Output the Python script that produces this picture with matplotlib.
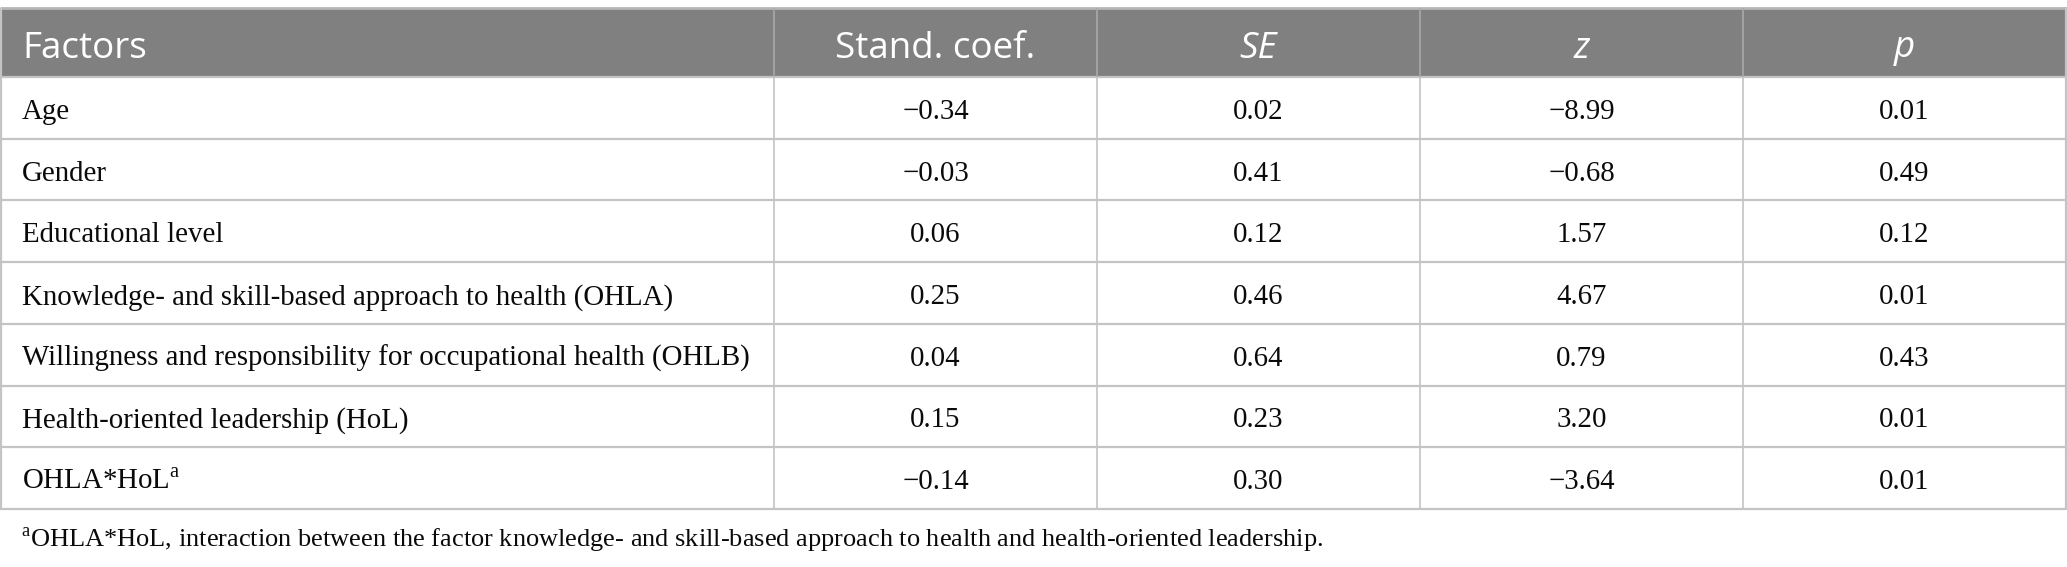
import matplotlib
matplotlib.use("Agg")
import matplotlib.pyplot as plt
from matplotlib.patches import Rectangle

plt.rcParams['mathtext.fontset'] = 'custom'
plt.rcParams['mathtext.rm'] = 'Liberation Serif'

headers = ["Factors", "Stand. coef.", "SE", "z", "p"]
header_italic = [False, False, True, True, True]
factors = [
    "Age",
    "Gender",
    "Educational level",
    "Knowledge- and skill-based approach to health (OHLA)",
    "Willingness and responsibility for occupational health (OHLB)",
    "Health-oriented leadership (HoL)",
    "OHLA*HoL$^{\\mathrm{a}}$",
]
stand_coef = ["\u22120.34", "\u22120.03", "0.06", "0.25", "0.04", "0.15", "\u22120.14"]
se = ["0.02", "0.41", "0.12", "0.46", "0.64", "0.23", "0.30"]
z = ["\u22128.99", "\u22120.68", "1.57", "4.67", "0.79", "3.20", "\u22123.64"]
p = ["0.01", "0.49", "0.12", "0.01", "0.43", "0.01", "0.01"]
footnote = ("$^{\\mathrm{a}}$OHLA*HoL, interaction between the factor knowledge- and skill-based "
            "approach to health and health-oriented leadership.")

W, H = 2067, 567
fig = plt.figure(figsize=(W / 100, H / 100), dpi=100)
ax = fig.add_axes([0, 0, 1, 1])
ax.set_xlim(0, W)
ax.set_ylim(H, 0)
ax.axis('off')

col_edges = [0, 774, 1097, 1420, 1743, 2066]
head_top, head_bot = 8, 77
row_h = 61.7
n_rows = len(factors)
row_edges = [head_bot + i * row_h for i in range(n_rows + 1)]

line_col = '#c4c4c4'
ax.add_patch(Rectangle((0, head_top), W, head_bot - head_top, facecolor='#7f807f', edgecolor='none', zorder=1))
ax.hlines(head_top, 0, W, color='#b5b5b5', lw=2, zorder=2)
for y in row_edges:
    ax.hlines(y, 0, W, color=line_col, lw=1.6, zorder=2)
for x in col_edges[1:-1]:
    ax.vlines(x, head_top, head_bot, color='#a9a9a9', lw=1.2, zorder=2)
    ax.vlines(x, head_bot, row_edges[-1], color=line_col, lw=1.2, zorder=2)
ax.vlines(0.6, head_top, row_edges[-1], color=line_col, lw=1.6, zorder=2)
ax.vlines(W - 0.8, head_top, row_edges[-1], color=line_col, lw=1.6, zorder=2)

hy = (head_top + head_bot) / 2 + 6
for i, (h, it) in enumerate(zip(headers, header_italic)):
    if i == 0:
        x, ha = 22, 'left'
    else:
        x, ha = (col_edges[i] + col_edges[i + 1]) / 2, 'center'
    ax.text(x, hy, h, ha=ha, va='center', color='white', fontsize=26.5,
            family='Open Sans', style='italic' if it else 'normal', zorder=3)

cols = [stand_coef, se, z, p]
for r in range(n_rows):
    cy = (row_edges[r] + row_edges[r + 1]) / 2 + 1
    ax.text(22, cy, factors[r], ha='left', va='center_baseline', fontsize=20.8,
            family='Liberation Serif', color='#0a0a0a', zorder=3)
    for c, vals in enumerate(cols):
        cx = (col_edges[c + 1] + col_edges[c + 2]) / 2
        ax.text(cx, cy, vals[r], ha='center', va='center_baseline', fontsize=20.8,
                family='Liberation Serif', color='#0a0a0a', zorder=3)

ax.text(21, 537, footnote, ha='left', va='center_baseline', fontsize=19,
        family='Liberation Serif', color='#0a0a0a', zorder=3)

fig.savefig('out.png', dpi=100, facecolor='white')
